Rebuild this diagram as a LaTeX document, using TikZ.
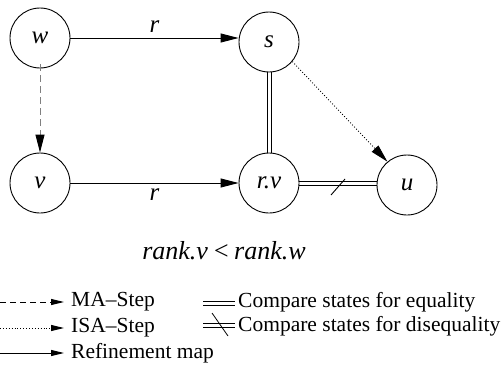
\documentclass[tikz,border=0pt]{standalone}
\usepackage{fontspec}
\setmainfont{Liberation Serif}
\usetikzlibrary{arrows.meta}
\begin{document}
\begin{tikzpicture}[x=1pt,y=-1pt,
  state/.style={circle,draw,line width=0.9pt,minimum size=60pt,inner sep=0pt,
    font=\fontsize{25}{28}\selectfont\itshape},
  bigtip/.style={-{Triangle[length=18pt,width=9pt,color=black]}},
  smalltip/.style={-{Triangle[length=13pt,width=6pt,color=black]}},
  line/.style={line width=0.9pt},
  lbl/.style={font=\fontsize{25}{28}\selectfont\itshape},
  legtext/.style={anchor=west,inner sep=0pt,font=\fontsize{21.5}{26}\selectfont}]
\useasboundingbox (0,0) rectangle (503,369);
\node[state] (w) at (40,38) {w};
\node[state] (s) at (269,42) {s};
\node[state] (v) at (40,183) {v};
\node[state] (rv) at (269,183) {r.v};
\node[state] (u) at (407,185) {u};

\draw[line,bigtip] (w.east) -- (s.west |- w.east) node[midway,lbl,above=2pt] {r};
\draw[line,bigtip] (v.east) -- (rv.west) node[midway,lbl,below=2pt] {r};
\draw[line,gray,dashed,dash pattern=on 7pt off 4pt,bigtip] (w.south) ++(0,-4) -- (v.north);
\draw[line] ([xshift=-2pt]s.south) -- ([xshift=-2pt]rv.north);
\draw[line] ([xshift=2pt]s.south) -- ([xshift=2pt]rv.north);
\draw[line,dotted,bigtip] (s.-40) -- (u.130);
\draw[line] ([yshift=-2pt]rv.east) -- ([yshift=-2pt]u.west |- rv.east) coordinate[pos=0.5] (m);
\draw[line] ([yshift=2pt]rv.east) -- ([yshift=2pt]u.west |- rv.east);
\draw[line] ([shift={(-7,10)}]m) -- ([shift={(7,-6)}]m);

\node[lbl,font=\fontsize{26}{30}\selectfont\itshape] (rk) at (224,251) {rank.v\,<\,rank.w};

% legend
\coordinate (l1a) at (0,302); \coordinate (l1b) at (64,302);
\coordinate (l2a) at (0,328); \coordinate (l2b) at (64,328);
\coordinate (l3a) at (0,353); \coordinate (l3b) at (64,353);
\draw[line,dashed,dash pattern=on 6pt off 4pt,smalltip] (l1a) -- (l1b);
\draw[line,dotted,smalltip] (l2a) -- (l2b);
\draw[line,smalltip] (l3a) -- (l3b);
\node[legtext] (t1) at (71,302) {MA–Step};
\node[legtext] (t2) at (71,328) {ISA–Step};
\node[legtext] (t3) at (71,353) {Refinement map};

\coordinate (e1a) at (203,301); \coordinate (e1b) at (235,301);
\coordinate (e1c) at (203,305); \coordinate (e1d) at (235,305);
\draw[line,line width=0.8pt] (e1a) -- (e1b);
\draw[line,line width=0.8pt] (e1c) -- (e1d);
\coordinate (e2a) at (203,323); \coordinate (e2b) at (235,323);
\coordinate (e2c) at (203,327); \coordinate (e2d) at (235,327);
\draw[line,line width=0.8pt] (e2a) -- (e2b);
\draw[line,line width=0.8pt] (e2c) -- (e2d);
\coordinate (d1) at (212,313); \coordinate (d2) at (228,336);
\draw[line,line width=0.8pt] (d1) -- (d2);
\node[legtext] (t4) at (238,302) {Compare states for equality};
\node[legtext] (t5) at (238,326) {Compare states for disequality};
\end{tikzpicture}
\end{document}
